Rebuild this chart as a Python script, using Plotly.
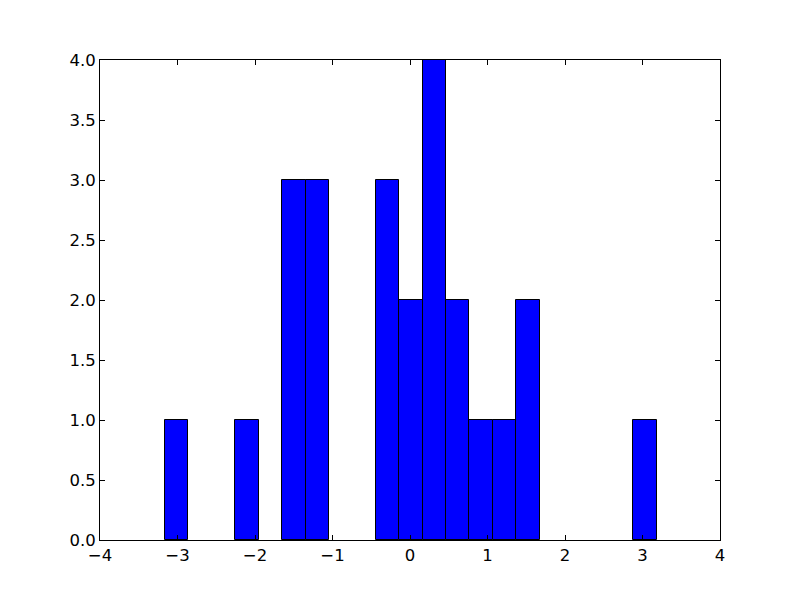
import numpy as np
import plotly.graph_objects as go

# Histogram data
bin_start = -3.161
bin_end = 3.183
counts = [1, 0, 0, 1, 0, 3, 3, 0, 0, 3, 2, 4, 2, 1, 1, 2, 0, 0, 0, 0, 1]

x_ticks = [-4, -3, -2, -1, 0, 1, 2, 3, 4]
y_ticks = [0.0, 0.5, 1.0, 1.5, 2.0, 2.5, 3.0, 3.5, 4.0]

edges = np.linspace(bin_start, bin_end, len(counts) + 1)
centers = (edges[:-1] + edges[1:]) / 2
widths = np.diff(edges)
edge_widths = [1 if c > 0 else 0 for c in counts]

fig = go.Figure(
    go.Bar(
        x=centers,
        y=counts,
        width=widths,
        marker=dict(color="#0000ff", line=dict(color="black", width=edge_widths)),
    )
)

font = dict(family="DejaVu Sans", size=16.5, color="black")
axis_common = dict(
    showgrid=False,
    zeroline=False,
    showline=True,
    linecolor="black",
    linewidth=1,
    mirror="allticks",
    ticks="inside",
    ticklen=5,
    tickcolor="black",
    tickfont=font,
)

fig.update_layout(
    width=800,
    height=600,
    margin=dict(l=92, r=88, t=52, b=68),
    paper_bgcolor="white",
    plot_bgcolor="white",
    bargap=0,
    showlegend=False,
    xaxis=dict(range=[-4, 4], tickvals=x_ticks, **axis_common),
    yaxis=dict(range=[0, 4], tickvals=y_ticks, tickformat=".1f", **axis_common),
)

fig.write_html("out.html")
